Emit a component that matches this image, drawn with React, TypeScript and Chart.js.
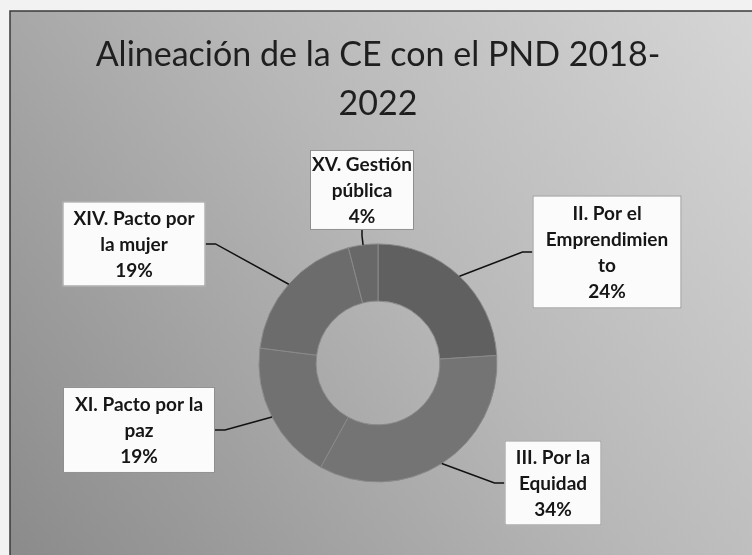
import React, { useEffect, useRef } from "react";
import { Chart, registerables } from "chart.js";

Chart.register(...registerables);

// ---- data ----
const titleLines = ["Alineación de la CE con el PND 2018-", "2022"];
const categories = [
  "II. Por el Emprendimiento",
  "III. Por la Equidad",
  "XI. Pacto por la paz",
  "XIV. Pacto por la mujer",
  "XV. Gestión pública",
];
const wrappedLabels = [
  ["II. Por el", "Emprendimien", "to"],
  ["III. Por la", "Equidad"],
  ["XI. Pacto por la", "paz"],
  ["XIV. Pacto por", "la mujer"],
  ["XV. Gestión", "pública"],
];
const shares = [24, 34, 19, 19, 4];

// ---- layout / style (not data) ----
const sliceColors = ["#606060", "#747474", "#717171", "#6c6c6c", "#686868"];
const calloutBoxes = [
  { dx: 229, dy: -111, w: 149, h: 113 },
  { dx: 175, dy: 120, w: 97, h: 85 },
  { dx: -239, dy: 67, w: 152, h: 86 },
  { dx: -244, dy: -119, w: 143, h: 85 },
  { dx: -16, dy: -173, w: 104, h: 80 },
];
const LABEL_FONT = "bold 19px Lato";
const LABEL_LINE = 26;

const backgroundPlugin = {
  id: "scanBackground",
  beforeDraw(chart: any) {
    const { ctx, width, height } = chart;
    ctx.save();
    ctx.fillStyle = "#f2f2f2";
    ctx.fillRect(0, 0, width, height);
    const g = ctx.createLinearGradient(width, 0, 0, height);
    g.addColorStop(0, "#d6d6d6");
    g.addColorStop(0.45, "#b8b8b8");
    g.addColorStop(1, "#8a8a8a");
    ctx.fillStyle = g;
    ctx.fillRect(10, 11, width - 10, height - 11);
    ctx.strokeStyle = "#3a3a3a";
    ctx.lineWidth = 1.5;
    ctx.beginPath();
    ctx.moveTo(10, height);
    ctx.lineTo(10, 11);
    ctx.lineTo(width, 11);
    ctx.stroke();
    ctx.restore();
  },
};

const calloutPlugin = {
  id: "callouts",
  afterDatasetsDraw(chart: any) {
    const ctx = chart.ctx;
    const meta = chart.getDatasetMeta(0);
    const values = chart.data.datasets[0].data as number[];
    meta.data.forEach((arc: any, i: number) => {
      const p = arc.getProps(["x", "y", "startAngle", "endAngle", "outerRadius"], true);
      const mid = (p.startAngle + p.endAngle) / 2;
      const ax = p.x + Math.cos(mid) * p.outerRadius;
      const ay = p.y + Math.sin(mid) * p.outerRadius;
      const b = calloutBoxes[i];
      const cx = p.x + b.dx;
      const cy = p.y + b.dy;
      const left = cx - b.w / 2;
      const right = cx + b.w / 2;
      const top = cy - b.h / 2;
      const bottom = cy + b.h / 2;
      let ex = cx, ey = bottom, kx = cx, ky = bottom + 6;
      if (ax > right) { ex = right; ey = cy; kx = right + 10; ky = cy; }
      else if (ax < left) { ex = left; ey = cy; kx = left - 10; ky = cy; }
      else if (ay < top) { ex = cx; ey = top; kx = cx; ky = top - 6; }
      ctx.save();
      ctx.strokeStyle = "#111111";
      ctx.lineWidth = 1.5;
      ctx.beginPath();
      ctx.moveTo(ax, ay);
      ctx.lineTo(kx, ky);
      ctx.lineTo(ex, ey);
      ctx.stroke();
      ctx.fillStyle = "#fbfbfb";
      ctx.fillRect(left, top, b.w, b.h);
      ctx.strokeStyle = "#8f8f8f";
      ctx.lineWidth = 1;
      ctx.strokeRect(left + 0.5, top + 0.5, b.w - 1, b.h - 1);
      const lines = [...wrappedLabels[i], `${values[i]}%`];
      ctx.fillStyle = "#161616";
      ctx.font = LABEL_FONT;
      ctx.textAlign = "center";
      ctx.textBaseline = "middle";
      const startY = cy - ((lines.length - 1) * LABEL_LINE) / 2 + 1;
      lines.forEach((t, k) => ctx.fillText(t, cx, startY + k * LABEL_LINE));
      ctx.restore();
    });
  },
};

export default function App() {
  const ref = useRef<HTMLCanvasElement>(null);
  useEffect(() => {
    if (!ref.current) return;
    const chart = new Chart(ref.current, {
      type: "doughnut",
      data: {
        labels: categories,
        datasets: [
          {
            data: shares,
            backgroundColor: sliceColors,
            borderColor: "#8a8a8a",
            borderWidth: 1,
            hoverOffset: 0,
            offset: 0,
          },
        ],
      },
      options: {
        responsive: false,
        animation: false,
        cutout: "52%",
        radius: 119,
        layout: { padding: { top: 0, left: 10, right: 6, bottom: 73 } },
        plugins: {
          legend: { display: false },
          tooltip: { enabled: false },
          title: {
            display: true,
            text: titleLines,
            color: "#1f1f1f",
            font: { family: "Lato", size: 34, weight: "normal", lineHeight: 1.44 },
            padding: { top: 31, bottom: 115 },
          },
        },
      },
      plugins: [backgroundPlugin, calloutPlugin],
    });
    return () => chart.destroy();
  }, []);
  return (
    <div style={{ position: "absolute", left: 0, top: 0, width: 752, height: 555 }}>
      <canvas ref={ref} width={752} height={555} style={{ display: "block" }} />
    </div>
  );
}
